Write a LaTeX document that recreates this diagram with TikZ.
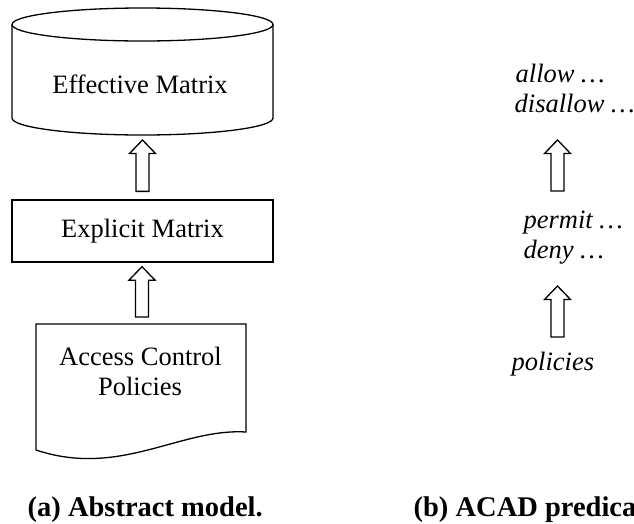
\documentclass[tikz,border=0pt]{standalone}
\usepackage{fontspec}
\setmainfont{Liberation Serif}
\usetikzlibrary{calc}

% hollow upward block arrow: #1 gives the x position, #2 the tail end, #3 the tip
\newcommand\hollowup[3]{%
  \path[draw] let \p0=(#1), \p1=(#2), \p2=(#3) in
    (\x0-6.5pt,\y1) -- (\x0+6.5pt,\y1) -- (\x0+6.5pt,\y2-13.5pt)
    -- (\x0+13pt,\y2-13.5pt) -- (\x0,\y2) -- (\x0-13pt,\y2-13.5pt)
    -- (\x0-6.5pt,\y2-13.5pt) -- cycle;}

\begin{document}
\begin{tikzpicture}[x=1pt,y=1pt,line width=1.3pt,line join=miter,
  lbl/.style={font=\fontsize{26.5}{30}\selectfont,inner sep=0pt},
  txt/.style={lbl,anchor=base},
  pred/.style={font=\fontsize{26.5}{30}\selectfont\itshape,inner sep=0pt,anchor=base west},
  caption/.style={font=\fontsize{28.5}{32}\selectfont\bfseries,inner sep=0pt,anchor=base west},
  matbox/.style={draw,lbl,minimum width=261pt,minimum height=62pt}]
\useasboundingbox (0,0) rectangle (634,-523);

% ---- (a) abstract model ----
% cylinder: effective matrix
\draw (12,-24.5) -- (12,-118)
      arc[start angle=180,end angle=360,x radius=130.5,y radius=17]
      -- (273,-24.5);
\draw (142.5,-24.5) ellipse[x radius=130.5,y radius=16.5];
\node[txt] (eff) at (140,-93) {Effective Matrix};
\coordinate (effbot) at (142.5,-135);

% explicit matrix
\node[matbox] (expl) at (142.5,-231) {Explicit Matrix};

% document: access control policies
\draw (36,-450) -- (36,-324) -- (246,-324) -- (246,-432)
      .. controls (180,-428) and (120,-478) .. (36,-450);
\coordinate (doctop) at (142,-324);
\node[txt] (acp1) at (140.5,-365) {Access Control};
\node[txt] (acp2) at (140,-395) {Policies};

\hollowup{expl.north}{$(expl.north)+(0,8)$}{$(effbot)+(0,-5)$}
\hollowup{doctop}{$(doctop)+(0,7)$}{$(expl.south)+(0,-4)$}

% ---- (b) predicates ----
\node[pred] (allow)    at (515,-82)  {allow …};
\node[pred] (disallow) at (514,-112) {disallow …};
\node[pred] (permit)   at (523,-228) {permit …};
\node[pred] (deny)     at (523,-258) {deny …};
\node[pred] (pol)      at (511,-370) {policies};
\coordinate (colb) at (557.5,0);

\hollowup{colb}{$(permit.base)+(0,37)$}{$(disallow.base)+(0,-28)$}
\hollowup{colb}{$(pol.base)+(0,33)$}{$(deny.base)+(0,-28)$}

% ---- captions ----
\node[caption] (capa) at (27,-516)  {(a) Abstract model.};
\node[caption] (capb) at (413,-516) {(b) ACAD predicates.};
\end{tikzpicture}
\end{document}
